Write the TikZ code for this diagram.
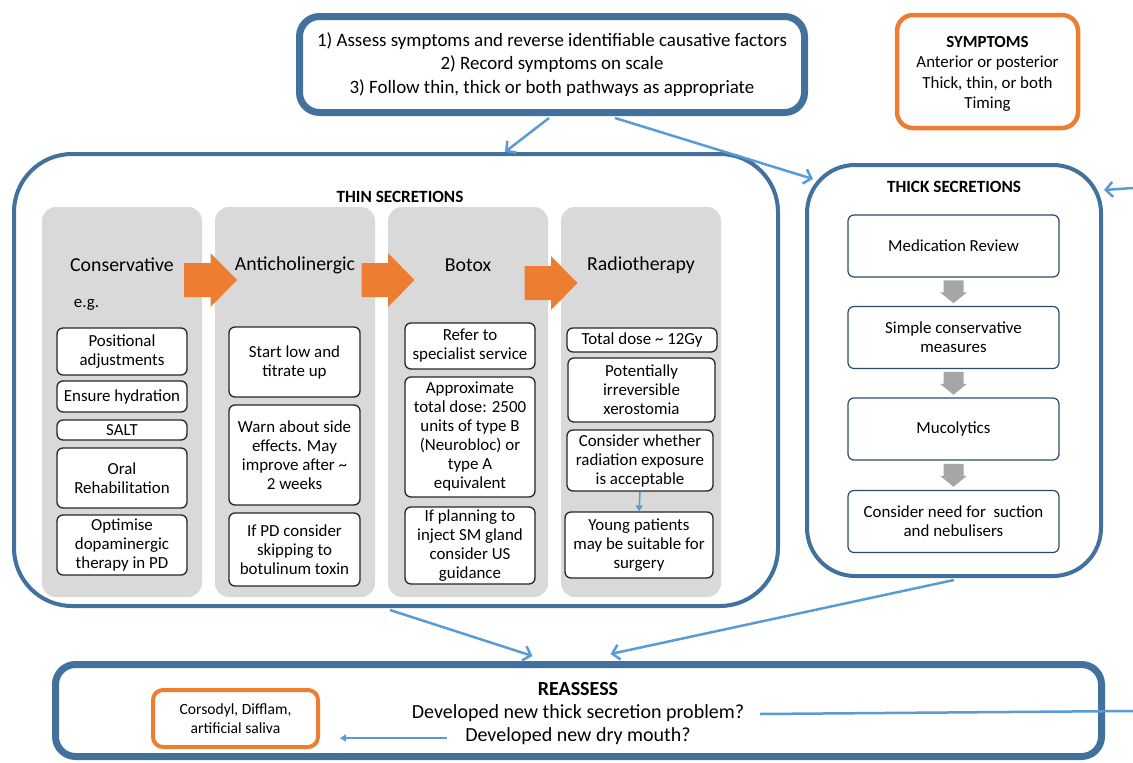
\documentclass[tikz,border=0pt]{standalone}
\usepackage{fontspec}
\setmainfont{Carlito}
\usetikzlibrary{arrows.meta,calc}
\definecolor{frameblue}{HTML}{41719C}
\definecolor{arrowblue}{HTML}{5B9BD5}
\definecolor{orangeacc}{HTML}{ED7D31}
\definecolor{greycol}{HTML}{D9D9D9}
\definecolor{greyarrow}{HTML}{A6A6A6}
\definecolor{navyline}{HTML}{2F4A68}
\begin{document}
\begin{tikzpicture}[x=1pt,y=-1pt,
  bigframe/.style={draw=frameblue, line width=7pt, rounded corners=20pt, fill=white, inner sep=0pt, align=center},
  midframe/.style={draw=frameblue, line width=4pt, fill=white, inner sep=0pt},
  orangeframe/.style={draw=orangeacc, fill=white, inner sep=0pt, align=center},
  column/.style={fill=greycol, rounded corners=14pt, minimum width=160pt, minimum height=390pt, inner sep=0pt},
  colhead/.style={font=\fontsize{19.8}{23}\selectfont, inner sep=0pt},
  thinbox/.style={draw=black!85, line width=1.3pt, rounded corners=6pt, fill=white, align=center, inner sep=0pt, font=\fontsize{16.9}{19}\selectfont},
  thickbox/.style={draw=navyline, line width=1.2pt, rounded corners=6pt, fill=white, align=center, inner sep=0pt, minimum width=211pt, minimum height=62pt, font=\fontsize{16.9}{19}\selectfont},
  title/.style={font=\fontsize{17.2}{20}\selectfont\bfseries, inner sep=0pt},
  bluearrow/.style={draw=arrowblue, line width=2.5pt, -{Straight Barb[length=7pt,width=15pt]}},
  smallarrow/.style={draw=arrowblue, line width=1.6pt, -{Triangle[length=6pt,width=7pt]}},
  rightarr/.pic={\fill[orangeacc] (-26.5,-17) -- (0,-17) -- (0,-27) -- (26.5,0) -- (0,27) -- (0,17) -- (-26.5,17) -- cycle;},
  downarr/.pic={\fill[greyarrow] (-10,-11.5) -- (10,-11.5) -- (10,0.5) -- (13.5,0.5) -- (0,11.5) -- (-13.5,0.5) -- (-10,0.5) -- cycle;}
]
\useasboundingbox (0,0) rectangle (1133,763);

% ---------- top box ----------
\node[bigframe, minimum width=505pt, minimum height=96pt, font=\fontsize{18.9}{23.5}\selectfont] (assess) at (552,64.5)
  {1) Assess symptoms and reverse identifiable causative factors\\2) Record symptoms on scale\\3) Follow thin, thick or both pathways as appropriate};

% ---------- symptoms ----------
\node[orangeframe, line width=4.5pt, rounded corners=16pt, minimum width=181pt, minimum height=113pt] (sympt) at (987.5,71.5) {};
\node[align=center, inner sep=0pt, font=\fontsize{16.9}{20.5}\selectfont] (symptext) at (987.5,74)
  {\textbf{SYMPTOMS}\\Anterior or posterior\\Thick, thin, or both\\Timing};

% ---------- thin secretions ----------
\node[midframe, rounded corners=58pt, minimum width=764pt, minimum height=452pt] (thin) at (396,380) {};
\node[title] (thintitle) at (400,197) {THIN SECRETIONS};

\node[column] (c1) at (122,402) {};
\node[column] (c2) at (295,402) {};
\node[column] (c3) at (468,402) {};
\node[column] (c4) at (641,402) {};

\node[colhead] (h1) at (122,265) {Conservative};
\node[colhead] (h2) at (295,265) {Anticholinergic};
\node[colhead] (h3) at (468,265) {Botox};
\node[colhead] (h4) at (641,265) {Radiotherapy};

\pic at (210.5,280) {rightarr};
\pic at (388,280) {rightarr};
\pic at (551,283) {rightarr};

\node[inner sep=0pt, font=\fontsize{16.9}{19}\selectfont] (eg) at (86.5,305) {e.g.};

% column 1
\node[thinbox, minimum width=130pt, minimum height=47pt] (b11) at (122,351.5) {Positional\\adjustments};
\node[thinbox, minimum width=130pt, minimum height=31pt] (b12) at (122,396.5) {Ensure hydration};
\node[thinbox, minimum width=130pt, minimum height=20pt] (b13) at (122,430) {SALT};
\node[thinbox, minimum width=130pt, minimum height=60pt] (b14) at (122,478) {Oral\\Rehabilitation};
\node[thinbox, minimum width=130pt, minimum height=60pt] (b15) at (122,545) {Optimise\\dopaminergic\\therapy in PD};

% column 2
\node[thinbox, minimum width=131pt, minimum height=70pt] (b21) at (294.5,362) {Start low and\\titrate up};
\node[thinbox, minimum width=131pt, minimum height=100pt] (b22) at (294.5,455) {Warn about side\\effects. May\\improve after \textasciitilde\\2 weeks};
\node[thinbox, minimum width=131pt, minimum height=73pt] (b23) at (294.5,549.5) {If PD consider\\skipping to\\botulinum toxin};

% column 3
\node[thinbox, minimum width=130pt, minimum height=46pt] (b31) at (470,346) {Refer to\\specialist service};
\node[thinbox, minimum width=130pt, minimum height=120pt] (b32) at (470,437) {Approximate\\total dose: 2500\\units of type B\\(Neurobloc) or\\type A\\equivalent};
\node[thinbox, minimum width=130pt, minimum height=77pt] (b33) at (470,545.5) {If planning to\\inject SM gland\\consider US\\guidance};

% column 4
\node[thinbox, minimum width=150pt, minimum height=24pt] (b41) at (642,340) {Total dose \textasciitilde\ 12Gy};
\node[thinbox, minimum width=147pt, minimum height=64pt] (b42) at (641.5,390) {Potentially\\irreversible\\xerostomia};
\node[thinbox, minimum width=146pt, minimum height=61pt] (b43) at (640,460.5) {Consider whether\\radiation exposure\\is acceptable};
\node[thinbox, minimum width=148pt, minimum height=66pt] (b44) at (639,545) {Young patients\\may be suitable for\\surgery};
\draw[smallarrow] (b43.south) -- (b44.north);

% ---------- thick secretions ----------
\node[midframe, rounded corners=48pt, minimum width=294pt, minimum height=411pt] (thick) at (954,370.5) {};
\node[title] (thicktitle) at (954,187) {THICK SECRETIONS};

\node[thickbox] (t1) at (953.5,246) {Medication Review};
\node[thickbox] (t2) at (953.5,337.5) {Simple conservative\\measures};
\node[thickbox] (t3) at (953.5,429) {Mucolytics};
\node[thickbox] (t4) at (953.5,521.5) {Consider need for~ suction\\and nebulisers};

\pic at ($(t1.south)!0.5!(t2.north)$) {downarr};
\pic at ($(t2.south)!0.5!(t3.north)$) {downarr};
\pic at ($(t3.south)!0.5!(t4.north)$) {downarr};

% ---------- reassess ----------
\node[bigframe, minimum width=1046pt, minimum height=92pt] (reassess) at (578.5,710.5) {};
\node[align=center, inner sep=0pt, font=\fontsize{20}{23}\selectfont] (reasstext) at (578,714)
  {\textbf{REASSESS}\\Developed new thick secretion problem?\\Developed new dry mouth?};
\node[orangeframe, line width=4pt, rounded corners=10pt, minimum width=165pt, minimum height=57pt, font=\fontsize{15.6}{19}\selectfont] (cors) at (235.5,718.5)
  {Corsodyl, Difflam,\\artificial saliva};

% ---------- connectors ----------
\coordinate (edgeA) at (1133,188);
\coordinate (edgeB) at (1133,711);
\coordinate (thickq) at (760,714);
\coordinate (drymouth) at (447,738);

\draw[bluearrow] ([xshift=-3pt,yshift=-2pt]assess.south) -- ($(thin.north)+(109,0)$);
\draw[bluearrow] ($(assess.south)+(63,2)$) -- ($(thick.north west)+(8,16)$);
\draw[bluearrow] (edgeA) -- ($(thick.north east)+(1,27)$);
\draw[bluearrow] ($(thin.south)+(-6,2)$) -- ($(reassess.north)+(-46,-5)$);
\draw[bluearrow] ($(thick.south)+(0,2)$) -- ($(reassess.north)+(32,-7)$);
\draw[draw=arrowblue, line width=2.5pt] (thickq) -- (edgeB);
\draw[smallarrow] (drymouth) -- ($(cors.east)+(20,19.5)$);
\end{tikzpicture}
\end{document}
